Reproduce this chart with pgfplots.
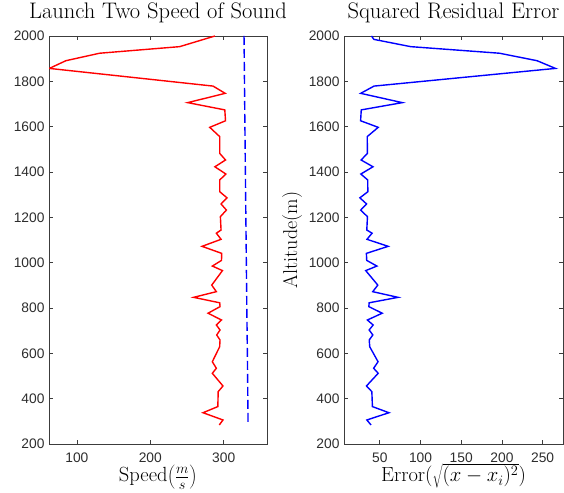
\documentclass[border=0pt]{standalone}
\usepackage{pgfplots}
\pgfplotsset{compat=1.18}
\usepackage{fontspec}
\newfontfamily\ticksf{Liberation Sans}
\definecolor{axgray}{RGB}{60,60,60}
\definecolor{txgray}{RGB}{45,45,45}
\definecolor{mred}{RGB}{255,0,0}
\definecolor{mblue}{RGB}{0,0,255}
\begin{document}
\begin{tikzpicture}
\useasboundingbox (0pt,0pt) rectangle (564pt,492pt);
\pgfplotsset{
  myax/.style={
    anchor=south west, scale only axis, height=408pt,
    ymin=200, ymax=2000, ytick={200,400,...,2000},
    axis line style={axgray, line width=0.7pt},
    every tick/.style={axgray, line width=0.7pt},
    major tick length=4pt,
    tick align=inside,
    ticklabel style={font=\ticksf\fontsize{13.8}{15}\selectfont, text=txgray},
    /pgf/number format/assume math mode=true,
    /pgf/number format/1000 sep={},
    scaled ticks=false,
    x tick label style={yshift=-5pt},
    y tick label style={xshift=-1pt},
    title style={at={(axis description cs:0.5,1.027)}, anchor=base, inner sep=0pt, font=\fontsize{22.5}{26}\selectfont},
    xlabel style={at={(axis description cs:0.5,-0.093)}, anchor=base, inner sep=0pt, font=\fontsize{20.5}{24}\selectfont},
    ylabel style={font=\fontsize{20}{24}\selectfont},
  }
}
\begin{axis}[myax, at={(49pt,48pt)}, width=218pt,
  xmin=62, xmax=359, xtick={100,200,300},
  title={Launch Two Speed of Sound},
  xlabel={Speed$\left(\frac{m}{s}\right)$}]
\addplot[mred, line width=1.4pt] coordinates {
(288,2000)(240,1953)(131,1924)(85,1891)(62.5,1857)(285.5,1779)(302,1747)(251,1706)(301.5,1674)(302.5,1626)(281,1597)(294.6,1556)(294.6,1482)(302.5,1453)(288,1423)(303,1391)(294.6,1365)(294.6,1313)(304.5,1286)(296.4,1259)(303.7,1232)(295.5,1203)(296.4,1144)(290,1130)(296.4,1103)(270.5,1072)(297.3,1041)(297,1010)(284.6,985)(298.3,965)(283.7,901)(290,872)(259,847)(294.6,823)(295,806)(278.7,777)(297,747)(290,725)(295,703)(290.5,681)(295,659)(294.5,629)(284.5,563)(290,534)(284.5,512)(299,456)(292.5,431)(292,365)(271.8,338)(299,306)(294,284)
};
\addplot[mblue, line width=1.4pt, dash pattern=on 9pt off 4pt] coordinates {
(327.7,2000)(328.9,1600)(330.2,1200)(331.5,800)(332.6,500)(333.2,284)
};
\end{axis}
\begin{axis}[myax, at={(344pt,48pt)}, width=219pt,
  xmin=6, xmax=275, xtick={50,100,150,200,250},
  title={Squared Residual Error},
  xlabel={Error$(\sqrt{(x-x_i)^2})$},
  ylabel={Altitude(m)},
  ylabel style={at={(axis description cs:-0.2146,0.5)}, anchor=base, rotate=0, inner sep=0pt}]
\addplot[mblue, line width=1.4pt] coordinates {
(39.7,2000)(42.8,1985)(87.9,1953)(196.9,1924)(243.1,1891)(265.7,1857)(42.9,1779)(26.5,1747)(77.6,1706)(27.2,1674)(26.4,1626)(48,1597)(34.5,1556)(34.8,1482)(27,1453)(41.6,1423)(26.7,1391)(35.1,1365)(35.3,1313)(25.5,1286)(33.7,1259)(26.5,1232)(34.8,1203)(34,1144)(40.5,1130)(34.2,1103)(60.2,1072)(33.5,1041)(33.9,1010)(46.4,985)(32.7,965)(47.5,901)(41.3,872)(72.4,847)(36.9,823)(36.5,806)(52.9,777)(34.7,747)(41.8,725)(36.9,703)(41.4,681)(37,659)(37.6,629)(47.8,563)(42.4,534)(48,512)(33.6,456)(40.2,431)(40.9,365)(61.2,338)(34.1,306)(39.2,284)
};
\end{axis}
\end{tikzpicture}
\end{document}
